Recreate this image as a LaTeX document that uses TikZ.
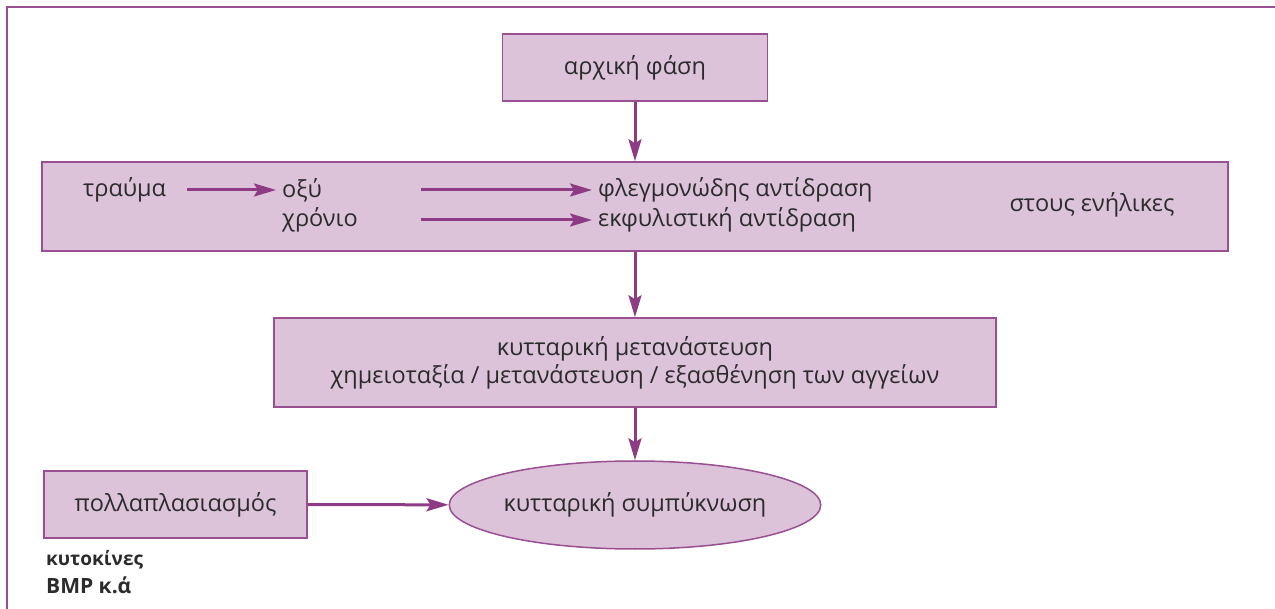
\documentclass[tikz,border=0pt]{standalone}
\usepackage{fontspec}
\setmainfont{Open Sans}
\usetikzlibrary{arrows.meta,shapes.geometric}
\definecolor{boxfill}{HTML}{DCC3DA}
\definecolor{boxline}{HTML}{9A4F92}
\definecolor{arrowcol}{HTML}{8C3B84}
\definecolor{txt}{HTML}{2B2B2B}

\begin{document}
\begin{tikzpicture}
  [x=1pt,y=-1pt,every node/.style={text=txt,font=\fontsize{23.5}{28}\selectfont},
   stage/.style={rectangle,fill=boxfill,draw=boxline,line width=1.5pt,inner sep=0pt},
   label/.style={anchor=west,inner ysep=2pt,inner xsep=6pt},
   flow/.style={draw=arrowcol,line width=3pt,-{Stealth[length=22pt,width=13pt,inset=4pt]}}]
  \useasboundingbox (0,0) rectangle (1275,609);
  \draw[boxline,line width=2pt] (7,609) -- (7,7.5) -- (1275,7.5);

  \node[stage,minimum width=265pt,minimum height=67pt] (arxi) at (635,67.5) {αρχική φάση};
  \node[stage,minimum width=1186pt,minimum height=89pt] (trauma box) at (635,206.5) {};
  \node[stage,minimum width=722pt,minimum height=89pt,align=center] (metan) at (635,362.5)
    {κυτταρική μετανάστευση\\χημειοταξία / μετανάστευση / εξασθένηση των αγγείων};
  \node[stage,ellipse,minimum width=370pt,minimum height=88pt] (sympyk) at (635,505) {κυτταρική συμπύκνωση};
  \node[stage,minimum width=263pt,minimum height=67pt] (poll) at (175.5,504.5) {πολλαπλασιασμός};

  \node[label] (trauma) at (77,190) {τραύμα};
  \node[label] (oxy) at (276,190) {οξύ};
  \node[label] (xronio) at (276,220) {χρόνιο};
  \node[label] (flegm) at (592,190) {φλεγμονώδης αντίδραση};
  \node[label] (ekfyl) at (592,220) {εκφυλιστική αντίδραση};
  \node (enil) at (1092,205) {στους ενήλικες};
  \coordinate (t0) at (187,190);
  \coordinate (s1) at (421,190);
  \coordinate (s2) at (421,220);

  \node[anchor=base west,inner sep=0pt,font=\bfseries\fontsize{19}{22}\selectfont] (kyto) at (46,565) {κυτοκίνες};
  \node[anchor=base west,inner sep=0pt,font=\bfseries\fontsize{21}{25}\selectfont] (bmp) at (46,593) {BMP κ.ά};

  \foreach \from/\to in {arxi/trauma box, trauma box/metan, metan/sympyk, poll/sympyk, t0/oxy, s1/flegm, s2/ekfyl}
  \draw[flow] (\from) -- (\to);
\end{tikzpicture}
\end{document}
